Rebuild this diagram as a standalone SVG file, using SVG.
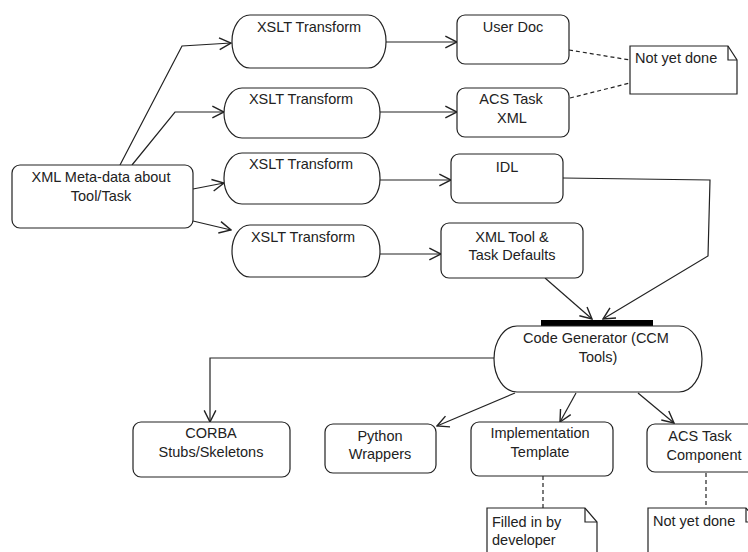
<svg xmlns="http://www.w3.org/2000/svg" width="748" height="552" viewBox="0 0 748 552">
<defs>
<style>
.n{fill:#fff;stroke:#222;stroke-width:1.2}
.t{font-family:"Liberation Sans",Arial,sans-serif;font-size:14.5px;fill:#222;text-anchor:middle}
.l{text-anchor:start}
.c{fill:none;stroke:#222;stroke-width:1.2}
.d{stroke-dasharray:4 3}
</style>
<marker id="a" markerUnits="userSpaceOnUse" markerWidth="14" markerHeight="14" viewBox="0 0 12 12" refX="11" refY="6" orient="auto">
<path d="M1,1 L11,6 L1,11" fill="none" stroke="#222" stroke-width="1.2"/>
</marker>
</defs>
<rect width="748" height="552" fill="#fff"/>
<g id="connectors">
<path class="c" d="M120,165 L182,46 L231,43" marker-end="url(#a)"/>
<path class="c" d="M132,165 L175,112 L224,112" marker-end="url(#a)"/>
<path class="c" d="M193,189 L224,183" marker-end="url(#a)"/>
<path class="c" d="M193,221 L231,230" marker-end="url(#a)"/>
<path class="c" d="M386,42 L457,42" marker-end="url(#a)"/>
<path class="c" d="M380,112 L457,112" marker-end="url(#a)"/>
<path class="c" d="M380,180 L451,180" marker-end="url(#a)"/>
<path class="c" d="M380,254 L441,254" marker-end="url(#a)"/>
<path class="c" d="M563,178 L710,180 L708,256 L603,319" marker-end="url(#a)"/>
<path class="c" d="M545,278 L592,319" marker-end="url(#a)"/>
<path class="c" d="M494,358 L210,358 L210,422" marker-end="url(#a)"/>
<path class="c" d="M515,393 L437,426" marker-end="url(#a)"/>
<path class="c" d="M576,393 L560,422" marker-end="url(#a)"/>
<path class="c" d="M638,393 L674,423" marker-end="url(#a)"/>
<path class="c d" d="M569,50 L630,60"/>
<path class="c d" d="M570,98 L630,83"/>
<path class="c d" d="M543,476 L543,508"/>
<path class="c d" d="M706,473 L706,508"/>
</g>
<g id="meta"><rect class="n" x="12" y="165" width="181" height="63" rx="8"/><text class="t" x="101" y="182">XML Meta-data about</text><text class="t" x="101" y="201">Tool/Task</text></g>
<g id="xslt1"><rect class="n" x="232" y="15" width="154" height="53" rx="18" ry="26"/><text class="t" x="309" y="32">XSLT Transform</text></g>
<g id="xslt2"><rect class="n" x="224" y="88" width="156" height="50" rx="18" ry="25"/><text class="t" x="301" y="104">XSLT Transform</text></g>
<g id="xslt3"><rect class="n" x="224" y="153" width="156" height="51" rx="18" ry="25"/><text class="t" x="301" y="169">XSLT Transform</text></g>
<g id="xslt4"><rect class="n" x="232" y="225" width="148" height="52" rx="18" ry="26"/><text class="t" x="303" y="242">XSLT Transform</text></g>
<g id="userdoc"><rect class="n" x="457" y="15" width="112" height="49" rx="8"/><text class="t" x="513" y="32">User Doc</text></g>
<g id="acsxml"><rect class="n" x="457" y="88" width="112" height="49" rx="8"/><text class="t" x="511" y="104">ACS Task</text><text class="t" x="512" y="123">XML</text></g>
<g id="idl"><rect class="n" x="451" y="154" width="112" height="49" rx="8"/><text class="t" x="507" y="172">IDL</text></g>
<g id="xmldef"><rect class="n" x="441" y="223" width="142" height="55" rx="8"/><text class="t" x="512" y="242">XML Tool &amp;</text><text class="t" x="512" y="260">Task Defaults</text></g>
<g id="note1"><path class="n" d="M630,46 L728,46 L737,60 L737,94 L630,94 Z"/><path class="c" d="M728,46 L728,60 L737,60"/><text class="t l" x="635" y="63">Not yet done</text></g>
<g id="codegen"><rect x="541" y="320" width="112" height="6" fill="#000"/><rect class="n" x="494" y="326" width="208" height="66" rx="23" ry="33"/><text class="t" x="596" y="343">Code Generator (CCM</text><text class="t" x="598" y="362">Tools)</text></g>
<g id="corba"><rect class="n" x="133" y="422" width="157" height="55" rx="8"/><text class="t" x="211" y="438">CORBA</text><text class="t" x="211" y="457">Stubs/Skeletons</text></g>
<g id="python"><rect class="n" x="325" y="424" width="111" height="49" rx="8"/><text class="t" x="380" y="441">Python</text><text class="t" x="380" y="459">Wrappers</text></g>
<g id="impl"><rect class="n" x="471" y="422" width="142" height="54" rx="8"/><text class="t" x="540" y="438">Implementation</text><text class="t" x="540" y="457">Template</text></g>
<g id="acscomp"><rect class="n" x="647" y="424" width="112" height="48" rx="8"/><text class="t" x="700" y="441">ACS Task</text><text class="t" x="704" y="460">Component</text></g>
<g id="note2"><path class="n" d="M487,508 L585,508 L597,522 L597,560 L487,560 Z"/><path class="c" d="M585,508 L585,522 L597,522"/><text class="t l" x="492" y="527">Filled in by</text><text class="t l" x="492" y="545">developer</text></g>
<g id="note3"><path class="n" d="M648,508 L746,508 L758,522 L758,560 L648,560 Z"/><path class="c" d="M746,508 L746,522 L758,522"/><text class="t l" x="653" y="526">Not yet done</text></g>
</svg>
